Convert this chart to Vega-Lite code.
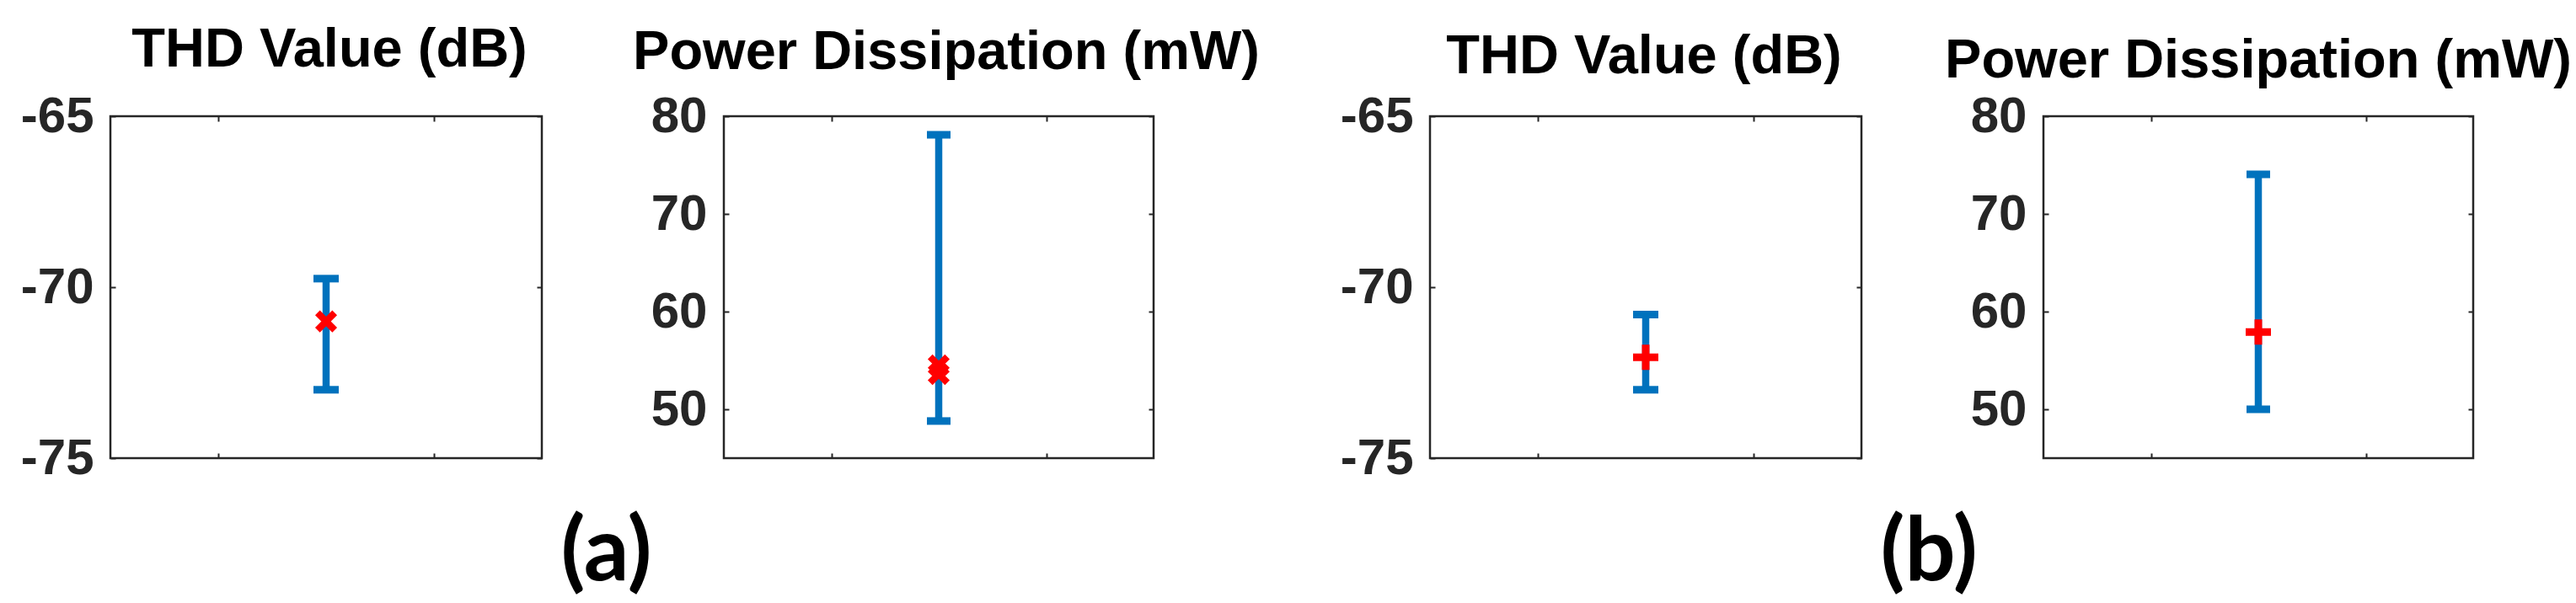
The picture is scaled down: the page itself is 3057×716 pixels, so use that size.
{
  "$schema": "https://vega.github.io/schema/vega-lite/v6.json",
  "background": "white",
  "padding": {"left": 23, "top": 25, "right": 3, "bottom": 3},
  "spacing": 92,
  "datasets": {
    "thd_a": [{"x": 1, "lo": -73.0, "hi": -69.75}],
    "thd_a_pt": [{"x": 1, "v": -71.0}],
    "pow_a": [{"x": 1, "lo": 48.8, "hi": 78.1}],
    "pow_a_pt": [{"x": 1, "v": 54.5}, {"x": 1, "v": 53.6}],
    "thd_b": [{"x": 1, "lo": -73.0, "hi": -70.8}],
    "thd_b_pt": [{"x": 1, "v": -72.05}],
    "pow_b": [{"x": 1, "lo": 50.0, "hi": 74.05}],
    "pow_b_pt": [{"x": 1, "v": 57.9}]
  },
  "hconcat": [
    {
      "hconcat": [
        {
          "width": 512, "height": 406,
          "title": {"text": "THD Value (dB)", "offset": 15.5, "frame": "group", "dx": 4},
          "data": {"name": "thd_a"},
          "resolve": {"axis": {"x": "independent", "y": "independent"}},
          "layer": [
            {"mark": {"type": "rule", "color": "#0072BD", "strokeWidth": 8.5},
             "encoding": {
               "x": {"field": "x", "type": "quantitative", "scale": {"domain": [0, 2], "nice": false, "zero": false}, "axis": {"orient": "bottom", "values": [0.5, 1.5], "labels": false, "title": null}},
               "y": {"field": "lo", "type": "quantitative", "scale": {"domain": [-75, -65], "nice": false, "zero": false}, "axis": {"orient": "left", "values": [-75, -70, -65], "title": null}},
               "y2": {"field": "hi"}}},
            {"mark": {"type": "tick", "orient": "horizontal", "color": "#0072BD", "size": 30, "thickness": 9, "opacity": 1},
             "encoding": {
               "x": {"field": "x", "type": "quantitative", "axis": {"orient": "top", "values": [0.5, 1.5], "labels": false, "title": null}},
               "y": {"field": "hi", "type": "quantitative", "axis": {"orient": "right", "values": [-75, -70, -65], "labels": false, "title": null}}}},
            {"mark": {"type": "tick", "orient": "horizontal", "color": "#0072BD", "size": 30, "thickness": 9, "opacity": 1},
             "encoding": {
               "x": {"field": "x", "type": "quantitative", "axis": null},
               "y": {"field": "lo", "type": "quantitative", "axis": null}}},
            {"data": {"name": "thd_a_pt"},
             "mark": {"type": "point", "shape": "M-1,-1L1,1M-1,1L1,-1", "filled": false, "stroke": "#FF0000", "strokeWidth": 8, "size": 416, "opacity": 1},
             "encoding": {
               "x": {"field": "x", "type": "quantitative", "axis": null},
               "y": {"field": "v", "type": "quantitative", "axis": null}}}
          ]
        },
        {
          "width": 510, "height": 406,
          "title": {"text": "Power Dissipation (mW)", "offset": 12, "frame": "group", "dx": 9},
          "data": {"name": "pow_a"},
          "resolve": {"axis": {"x": "independent", "y": "independent"}},
          "layer": [
            {"mark": {"type": "rule", "color": "#0072BD", "strokeWidth": 8.5},
             "encoding": {
               "x": {"field": "x", "type": "quantitative", "scale": {"domain": [0, 2], "nice": false, "zero": false}, "axis": {"orient": "bottom", "values": [0.5, 1.5], "labels": false, "title": null}},
               "y": {"field": "lo", "type": "quantitative", "scale": {"domain": [45, 80], "nice": false, "zero": false}, "axis": {"orient": "left", "values": [50, 60, 70, 80], "title": null}},
               "y2": {"field": "hi"}}},
            {"mark": {"type": "tick", "orient": "horizontal", "color": "#0072BD", "size": 28, "thickness": 9, "opacity": 1},
             "encoding": {
               "x": {"field": "x", "type": "quantitative", "axis": {"orient": "top", "values": [0.5, 1.5], "labels": false, "title": null}},
               "y": {"field": "hi", "type": "quantitative", "axis": {"orient": "right", "values": [50, 60, 70, 80], "labels": false, "title": null}}}},
            {"mark": {"type": "tick", "orient": "horizontal", "color": "#0072BD", "size": 28, "thickness": 9, "opacity": 1},
             "encoding": {
               "x": {"field": "x", "type": "quantitative", "axis": null},
               "y": {"field": "lo", "type": "quantitative", "axis": null}}},
            {"data": {"name": "pow_a_pt"},
             "mark": {"type": "point", "shape": "M-1,-1L1,1M-1,1L1,-1", "filled": false, "stroke": "#FF0000", "strokeWidth": 8, "size": 416, "opacity": 1},
             "encoding": {
               "x": {"field": "x", "type": "quantitative", "axis": null},
               "y": {"field": "v", "type": "quantitative", "axis": null}}}
          ]
        }
      ],
      "spacing": 216,
      "bounds": "flush",
      "title": {"text": "(a)", "orient": "bottom", "anchor": "middle", "font": "Lato", "fontSize": 106, "fontWeight": "bold", "color": "#000000", "baseline": "alphabetic", "offset": 114, "dx": -40}
    },
    {
      "hconcat": [
        {
          "width": 512, "height": 406,
          "title": {"text": "THD Value (dB)", "offset": 7, "frame": "group", "dx": -2},
          "data": {"name": "thd_b"},
          "resolve": {"axis": {"x": "independent", "y": "independent"}},
          "layer": [
            {"mark": {"type": "rule", "color": "#0072BD", "strokeWidth": 8.5},
             "encoding": {
               "x": {"field": "x", "type": "quantitative", "scale": {"domain": [0, 2], "nice": false, "zero": false}, "axis": {"orient": "bottom", "values": [0.5, 1.5], "labels": false, "title": null}},
               "y": {"field": "lo", "type": "quantitative", "scale": {"domain": [-75, -65], "nice": false, "zero": false}, "axis": {"orient": "left", "values": [-75, -70, -65], "title": null}},
               "y2": {"field": "hi"}}},
            {"mark": {"type": "tick", "orient": "horizontal", "color": "#0072BD", "size": 30, "thickness": 9, "opacity": 1},
             "encoding": {
               "x": {"field": "x", "type": "quantitative", "axis": {"orient": "top", "values": [0.5, 1.5], "labels": false, "title": null}},
               "y": {"field": "hi", "type": "quantitative", "axis": {"orient": "right", "values": [-75, -70, -65], "labels": false, "title": null}}}},
            {"mark": {"type": "tick", "orient": "horizontal", "color": "#0072BD", "size": 30, "thickness": 9, "opacity": 1},
             "encoding": {
               "x": {"field": "x", "type": "quantitative", "axis": null},
               "y": {"field": "lo", "type": "quantitative", "axis": null}}},
            {"data": {"name": "thd_b_pt"},
             "mark": {"type": "point", "shape": "M-1,0L1,0M0,-1L0,1", "filled": false, "stroke": "#FF0000", "strokeWidth": 9, "size": 900, "opacity": 1},
             "encoding": {
               "x": {"field": "x", "type": "quantitative", "axis": null},
               "y": {"field": "v", "type": "quantitative", "axis": null}}}
          ]
        },
        {
          "width": 510, "height": 406,
          "title": {"text": "Power Dissipation (mW)", "offset": 2.5, "frame": "group"},
          "data": {"name": "pow_b"},
          "resolve": {"axis": {"x": "independent", "y": "independent"}},
          "layer": [
            {"mark": {"type": "rule", "color": "#0072BD", "strokeWidth": 8.5},
             "encoding": {
               "x": {"field": "x", "type": "quantitative", "scale": {"domain": [0, 2], "nice": false, "zero": false}, "axis": {"orient": "bottom", "values": [0.5, 1.5], "labels": false, "title": null}},
               "y": {"field": "lo", "type": "quantitative", "scale": {"domain": [45, 80], "nice": false, "zero": false}, "axis": {"orient": "left", "values": [50, 60, 70, 80], "title": null}},
               "y2": {"field": "hi"}}},
            {"mark": {"type": "tick", "orient": "horizontal", "color": "#0072BD", "size": 28, "thickness": 9, "opacity": 1},
             "encoding": {
               "x": {"field": "x", "type": "quantitative", "axis": {"orient": "top", "values": [0.5, 1.5], "labels": false, "title": null}},
               "y": {"field": "hi", "type": "quantitative", "axis": {"orient": "right", "values": [50, 60, 70, 80], "labels": false, "title": null}}}},
            {"mark": {"type": "tick", "orient": "horizontal", "color": "#0072BD", "size": 28, "thickness": 9, "opacity": 1},
             "encoding": {
               "x": {"field": "x", "type": "quantitative", "axis": null},
               "y": {"field": "lo", "type": "quantitative", "axis": null}}},
            {"data": {"name": "pow_b_pt"},
             "mark": {"type": "point", "shape": "M-1,0L1,0M0,-1L0,1", "filled": false, "stroke": "#FF0000", "strokeWidth": 9, "size": 900, "opacity": 1},
             "encoding": {
               "x": {"field": "x", "type": "quantitative", "axis": null},
               "y": {"field": "v", "type": "quantitative", "axis": null}}}
          ]
        }
      ],
      "spacing": 216,
      "bounds": "flush",
      "title": {"text": "(b)", "orient": "bottom", "anchor": "middle", "font": "Lato", "fontSize": 106, "fontWeight": "bold", "color": "#000000", "baseline": "alphabetic", "offset": 114, "dx": -32}
    }
  ],
  "config": {
    "view": {"stroke": "#262626", "strokeWidth": 2.5},
    "axis": {
      "labelFont": "Liberation Sans", "labelFontSize": 60, "labelFontWeight": "bold", "labelColor": "#262626",
      "labelExpr": "'' + datum.value",
      "tickColor": "#262626", "tickWidth": 2, "tickSize": -6, "labelPadding": 26,
      "domain": false, "grid": false
    },
    "title": {"font": "Liberation Sans", "fontSize": 65, "fontWeight": "bold", "color": "#000000", "baseline": "alphabetic"}
  }
}
